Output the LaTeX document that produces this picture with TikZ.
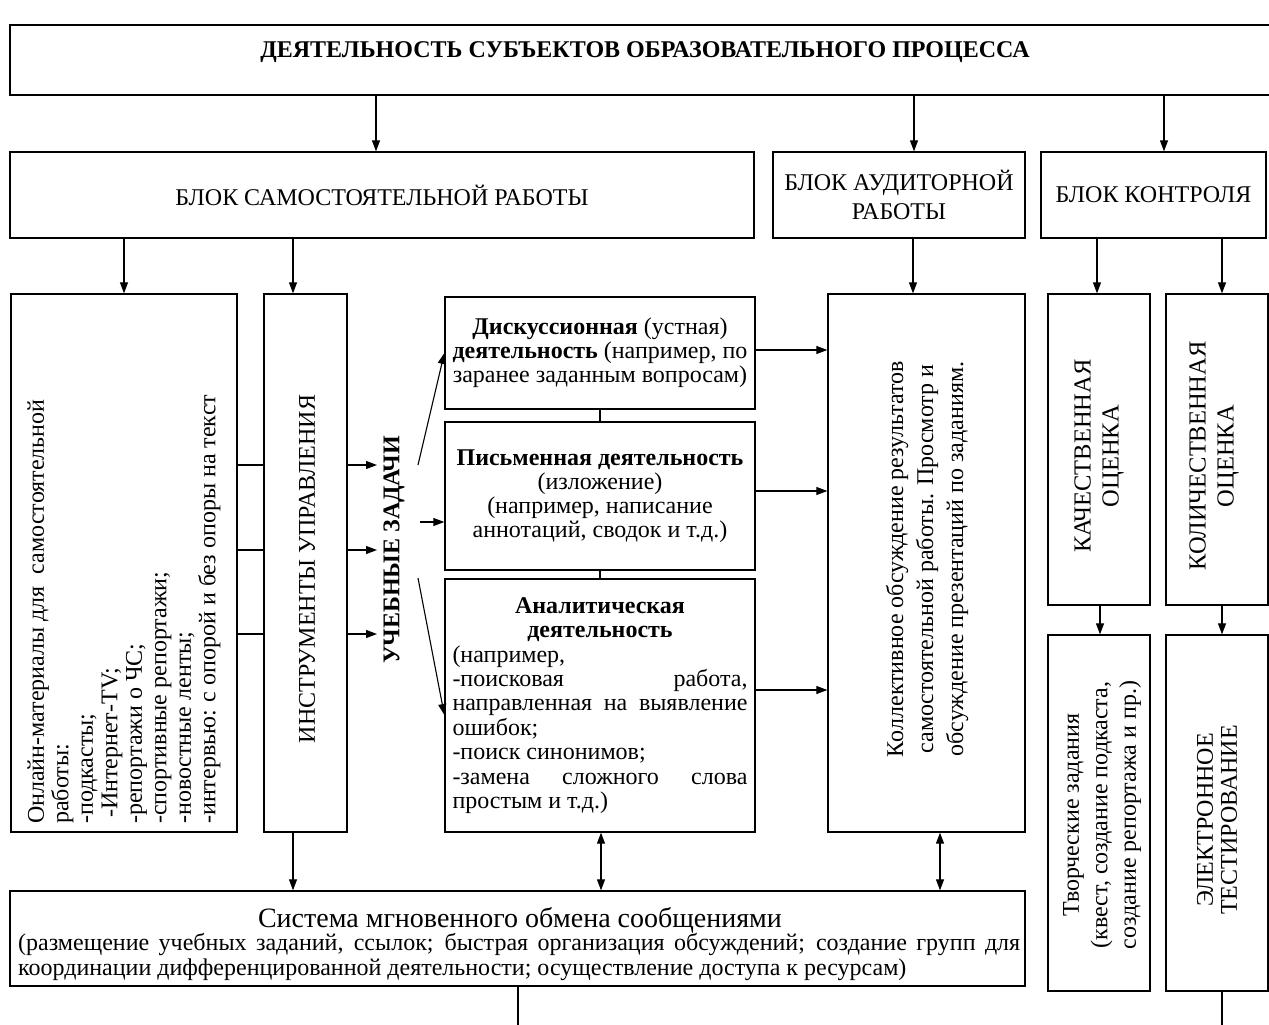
\documentclass[tikz,border=0pt]{standalone}
\usepackage{fontspec}
\setmainfont{Liberation Serif}
\usetikzlibrary{arrows.meta,calc}
\newcommand\dfs{\fontsize{24}{24.5}\selectfont}
\newcommand\bigfs{\fontsize{28}{30}\selectfont}
\begin{document}
\begin{tikzpicture}[x=1pt,y=-1pt,
  box/.style={draw, line width=1.3pt, inner sep=0pt, font=\dfs, align=center},
  lbl/.style={font=\dfs, inner sep=0pt, align=center},
  arr/.style={-{Triangle[length=11pt,width=8pt]}, line width=1.1pt},
  darr/.style={{Triangle[length=11pt,width=8pt]}-{Triangle[length=11pt,width=8pt]}, line width=1.1pt},
  ln/.style={line width=1.1pt}]
\useasboundingbox (0,0) rectangle (1269,1025);
\clip (0,0) rectangle (1269,1025);
% ---------- boxes ----------
\node[box, minimum width=1290, minimum height=70] (top) at (655,60) {};
\node[lbl, font=\dfs\bfseries] (ttl) at (645,52) {ДЕЯТЕЛЬНОСТЬ СУБЪЕКТОВ ОБРАЗОВАТЕЛЬНОГО ПРОЦЕССА};
\node[box, minimum width=744, minimum height=86] (sam) at (382,195) {БЛОК САМОСТОЯТЕЛЬНОЙ РАБОТЫ};
\node[box, minimum width=252, minimum height=86, font=\fontsize{24}{29}\selectfont] (aud) at (899,195) {БЛОК АУДИТОРНОЙ\\РАБОТЫ};
\node[box, minimum width=225, minimum height=86] (kon) at (1153.5,195) {БЛОК КОНТРОЛЯ};
\node[box, minimum width=226, minimum height=538] (onl) at (124,563) {};
\node[box, minimum width=83, minimum height=538] (ins) at (305.5,563) {};
\node[box, minimum width=310, minimum height=112, font=\fontsize{24}{24}\selectfont] (disk) at (600,353)
  {\textbf{Дискуссионная} (устная)\\\textbf{деятельность} (например, по\\заранее заданным вопросам)};
\node[box, minimum width=310, minimum height=148, font=\fontsize{24}{24}\selectfont] (pis) at (600,496)
  {\textbf{Письменная деятельность}\\(изложение)\\(например, написание\\аннотаций, сводок и т.д.)};
\node[box, minimum width=310, minimum height=253, font=\fontsize{24}{24.4}\selectfont] (ana) at (600,705.5)
  {\textbf{Аналитическая}\\\textbf{деятельность}\\
   \makebox[295pt][l]{(например,}\\
   \makebox[295pt][s]{-поисковая работа,}\\
   \makebox[295pt][s]{направленная на выявление}\\
   \makebox[295pt][l]{ошибок;}\\
   \makebox[295pt][l]{-поиск синонимов;}\\
   \makebox[295pt][s]{-замена сложного слова}\\
   \makebox[295pt][l]{простым и т.д.)}};
\node[box, minimum width=197, minimum height=538] (koll) at (926.5,563) {};
\node[box, minimum width=102, minimum height=311] (kach) at (1099,449.5) {};
\node[box, minimum width=102, minimum height=311] (kol) at (1217,449.5) {};
\node[box, minimum width=102, minimum height=356] (tvor) at (1099,813) {};
\node[box, minimum width=102, minimum height=356] (el) at (1217,813) {};
\node[box, minimum width=1015, minimum height=95] (sys) at (517.5,938.5) {};
% ---------- texts ----------
\node[lbl, rotate=90, align=left, anchor=west] (onltxt) at (124,824)
  {Онлайн-материалы для\ \ самостоятельной\\работы:\\-подкасты;\\\ -Интернет-TV;\\-репортажи о ЧС;\\-спортивные репортажи;\\-новостные ленты;\\-интервью: с опорой и без опоры на текст};
\node[lbl, rotate=90] (instxt) at (307,569) {ИНСТРУМЕНТЫ УПРАВЛЕНИЯ};
\node[lbl, rotate=90, font=\dfs\bfseries] (uz) at (394,550) {УЧЕБНЫЕ ЗАДАЧИ};
\node[lbl, rotate=90, font=\fontsize{24}{30}\selectfont] (kolltxt) at (927,559)
  {Коллективное обсуждение результатов\\самостоятельной работы. Просмотр и\\обсуждение презентаций по заданиям.};
\node[lbl, rotate=90, font=\fontsize{24.5}{28}\selectfont] (kachtxt) at (1099,456) {КАЧЕСТВЕННАЯ\\ОЦЕНКА};
\node[lbl, rotate=90, font=\fontsize{24.5}{28}\selectfont] (koltxt) at (1214,456) {КОЛИЧЕСТВЕННАЯ\\ОЦЕНКА};
\node[lbl, rotate=90, font=\fontsize{24}{28.5}\selectfont] (tvortxt) at (1102,815)
  {Творческие задания\\(квест, создание подкаста,\\создание репортажа и пр.)};
\node[lbl, rotate=90, font=\fontsize{24}{24}\selectfont] (eltxt) at (1217,820) {ЭЛЕКТРОННОЕ\\ТЕСТИРОВАНИЕ};
\node[lbl, font=\bigfs, anchor=base] (systitle) at (520,927) {Система мгновенного обмена сообщениями};
\node[lbl, align=left, anchor=base west] (systxt) at (18,975)
  {\makebox[1002pt][s]{(размещение учебных заданий, ссылок; быстрая организация обсуждений; создание групп для}\\
   координации дифференцированной деятельности; осуществление доступа к ресурсам)};
% ---------- free ends ----------
\coordinate (e1) at (377,465);
\coordinate (e2) at (377,550);
\coordinate (e3) at (377,634);
\coordinate (s1) at (418,465);
\coordinate (s2) at (420,522);
\coordinate (s3) at (418,578);
\coordinate (bot1) at (518,1030);
\coordinate (bot2) at (1222,1030);
% ---------- connectors ----------
\draw[arr] (top.south -| 376,0) -- (sam.north -| 376,0);
\draw[arr] (top.south -| 914,0) -- (aud.north -| 914,0);
\draw[arr] (top.south -| 1164,0) -- (kon.north -| 1164,0);
\draw[arr] (sam.south -| onl.north) -- (onl.north);
\draw[arr] (sam.south -| 293,0) -- (ins.north -| 293,0);
\draw[arr] (aud.south -| 913,0) -- (koll.north -| 913,0);
\draw[arr] (kon.south -| 1097,0) -- (kach.north -| 1097,0);
\draw[arr] (kon.south -| 1222,0) -- (kol.north -| 1222,0);
\draw[ln] (onl.east |- e1) -- (ins.west |- e1);
\draw[ln] (onl.east |- e2) -- (ins.west |- e2);
\draw[ln] (onl.east |- e3) -- (ins.west |- e3);
\draw[arr] (ins.east |- e1) -- (e1);
\draw[arr] (ins.east |- e2) -- (e2);
\draw[arr] (ins.east |- e3) -- (e3);
\draw[arr] (s1) -- (disk.west);
\draw[arr] (s2) -- (pis.west |- s2);
\draw[arr] (s3) -- (ana.west |- 0,715);
\draw[ln] (disk.south) -- (pis.north);
\draw[ln] (pis.south) -- (ana.north);
\draw[arr] (disk.east |- 0,350) -- (koll.west |- 0,350);
\draw[arr] (pis.east |- 0,491) -- (koll.west |- 0,491);
\draw[arr] (ana.east |- 0,690) -- (koll.west |- 0,690);
\draw[arr] (kach.south -| 1100,0) -- (tvor.north -| 1100,0);
\draw[arr] (kol.south -| 1222,0) -- (el.north -| 1222,0);
\draw[arr] (ins.south -| 293,0) -- (sys.north -| 293,0);
\draw[darr] (ana.south -| 601,0) -- (sys.north -| 601,0);
\draw[darr] (koll.south -| 940,0) -- (sys.north -| 940,0);
\draw[ln] (sys.south -| bot1) -- (bot1);
\draw[ln] (el.south -| bot2) -- (bot2);
\end{tikzpicture}
\end{document}
